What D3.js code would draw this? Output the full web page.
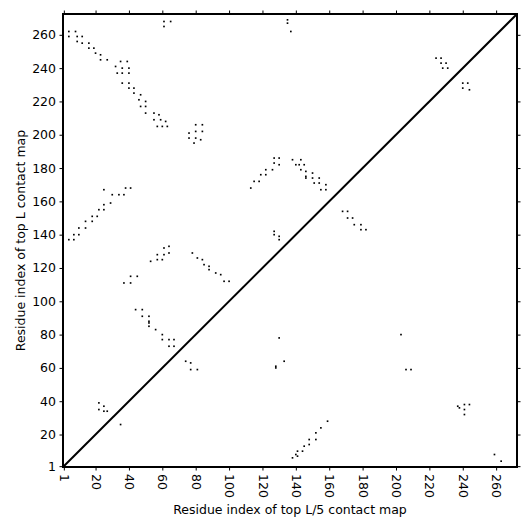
<!DOCTYPE html>
<html>
<head>
<meta charset="utf-8">
<script src="https://cdn.jsdelivr.net/npm/d3@7"></script>
<style>
  body { margin: 0; background: #fff; }
  text { font-family: "DejaVu Sans", sans-serif; }
</style>
</head>
<body>
<div id="chart"></div>
<script>
// sequence length and tick labels
const seqLength = 272;
const tickValues = [1, 20, 40, 60, 80, 100, 120, 140, 160, 180, 200, 220, 240, 260];

// upper triangle: top L contacts [i, j]
const topLContacts = [
    [61,268],[65,268],[61,265],[135,269],[135,267],[137,262],
    [4,262],[8,262],[4,259],[9,259],[12,259],[9,256],[12,255],[16,255],[16,252],[19,252],
    [20,249],[23,248],[23,245],[27,245],[35,244],[39,244],[32,241],[36,240],[40,240],
    [33,237],[36,237],[40,237],[36,231],[40,231],[40,228],[43,228],[43,225],[47,224],
    [46,221],[50,220],[47,217],[50,217],[50,213],[55,213],[58,212],[55,209],[59,209],
    [62,208],[57,205],[60,205],[63,205],
    [80,206],[84,206],[76,201],[80,202],[84,202],[76,198],[80,198],[83,197],[79,195],
    [127,186],[130,186],[127,183],[130,182],[138,185],[143,185],[140,182],[142,182],[145,182],
    [143,179],[146,178],[146,175],[146,174],[150,177],[150,174],[154,174],[151,171],[154,171],
    [158,170],[155,167],[158,167],
    [122,179],[126,179],[119,176],[122,176],[115,172],[118,172],[113,168],
    [127,142],[127,140],[130,139],[130,137],
    [168,154],[171,154],[171,150],[174,150],[175,146],[179,146],[179,143],[182,143],
    [25,167],[38,168],[41,168],[30,164],[34,164],[37,164],[25,158],[29,159],[22,155],[25,155],
    [18,151],[21,151],[14,148],[18,148],[10,144],[14,144],[7,140],[10,140],[4,137],[7,137],
    [61,132],[64,133],[57,128],[61,128],[64,129],[57,125],[60,125],[53,124],
    [41,115],[45,115],[37,111],[41,111],
    [78,129],[81,126],[84,125],[85,122],[88,121],[88,119],[92,117],[95,116],[97,112],[100,112],
    [44,95],[48,95],[48,91],[52,91],[52,88],[52,87],[52,85],[56,83],[60,80],[60,77],[64,77],
    [67,77],[64,73],[67,73],
    [22,39],[25,37],[22,35],[25,34],[27,34],[35,26],
    [74,64],[77,63],[77,59],[81,59],
    [224,246],[227,246],[227,243],[230,243],[228,240],[231,240]
];

// lower triangle: top L/5 contacts [i, j]
const topL5Contacts = [
    [130,78],[133,64],[128,60],[128,61],
    [159,28],[155,24],[152,21],[148,17],[152,17],[148,14],[145,13],[144,10],[141,10],[141,7],
    [138,6],[140,8],
    [203,80],[206,59],[209,59],
    [237,37],[238,36],[241,38],[241,35],[244,38],[241,32],
    [259,8],[263,4],
    [240,231],[243,231],[240,228],[244,227]
];

const width = 531, height = 531;
const margin = { top: 14, right: 14, bottom: 64, left: 63 };

const svg = d3.select('#chart').append('svg')
    .attr('width', width)
    .attr('height', height);

const xScale = d3.scaleLinear()
    .domain([0.5, seqLength + 0.5])
    .range([margin.left, width - margin.right]);

const yScale = d3.scaleLinear()
    .domain([0.5, seqLength + 0.5])
    .range([height - margin.bottom, margin.top]);

// contact cells
const allContacts = topLContacts.concat(topL5Contacts);
svg.append('g')
    .selectAll('rect')
    .data(allContacts)
    .enter()
    .append('rect')
    .attr('x', d => xScale(d[0] - 0.5))
    .attr('y', d => yScale(d[1] + 0.5))
    .attr('width', d => xScale(d[0] + 0.5) - xScale(d[0] - 0.5))
    .attr('height', d => yScale(d[1] - 0.5) - yScale(d[1] + 0.5))
    .attr('fill', '#000');

// diagonal
svg.append('line')
    .attr('x1', xScale(0.5))
    .attr('y1', yScale(0.5))
    .attr('x2', xScale(seqLength + 0.5))
    .attr('y2', yScale(seqLength + 0.5))
    .attr('stroke', '#000')
    .attr('stroke-width', 2);

// axes
const tickSize = 3.5;
const xAxis = d3.axisBottom(xScale).tickValues(tickValues).tickSize(tickSize).tickPadding(3.5);
const yAxis = d3.axisLeft(yScale).tickValues(tickValues).tickSize(tickSize).tickPadding(3.5);

const gx = svg.append('g')
    .attr('transform', `translate(0,${height - margin.bottom})`)
    .call(xAxis);
gx.selectAll('text')
    .attr('transform', 'rotate(90)')
    .attr('x', 7)
    .attr('y', 0)
    .attr('dy', '0.35em')
    .style('text-anchor', 'start');

const gy = svg.append('g')
    .attr('transform', `translate(${margin.left},0)`)
    .call(yAxis);

svg.append('g')
    .attr('transform', `translate(0,${margin.top})`)
    .call(d3.axisTop(xScale).tickValues(tickValues).tickSize(tickSize).tickFormat(''));
svg.append('g')
    .attr('transform', `translate(${width - margin.right},0)`)
    .call(d3.axisRight(yScale).tickValues(tickValues).tickSize(tickSize).tickFormat(''));

svg.selectAll('.domain').remove();
svg.selectAll('.tick line').attr('stroke', '#000').attr('stroke-width', 1);
svg.selectAll('.tick text')
    .attr('fill', '#000')
    .style('font-family', '"DejaVu Sans", sans-serif')
    .style('font-size', '12.5px');

// frame
svg.append('rect')
    .attr('x', margin.left)
    .attr('y', margin.top)
    .attr('width', width - margin.left - margin.right)
    .attr('height', height - margin.top - margin.bottom)
    .attr('fill', 'none')
    .attr('stroke', '#000')
    .attr('stroke-width', 2);

// axis titles
svg.append('text')
    .attr('x', (margin.left + width - margin.right) / 2)
    .attr('y', 514)
    .attr('text-anchor', 'middle')
    .style('font-size', '12.5px')
    .text('Residue index of top L/5 contact map');

svg.append('text')
    .attr('transform', `translate(25,${(margin.top + height - margin.bottom) / 2}) rotate(-90)`)
    .attr('text-anchor', 'middle')
    .style('font-size', '12.5px')
    .text('Residue index of top L contact map');
</script>
</body>
</html>
